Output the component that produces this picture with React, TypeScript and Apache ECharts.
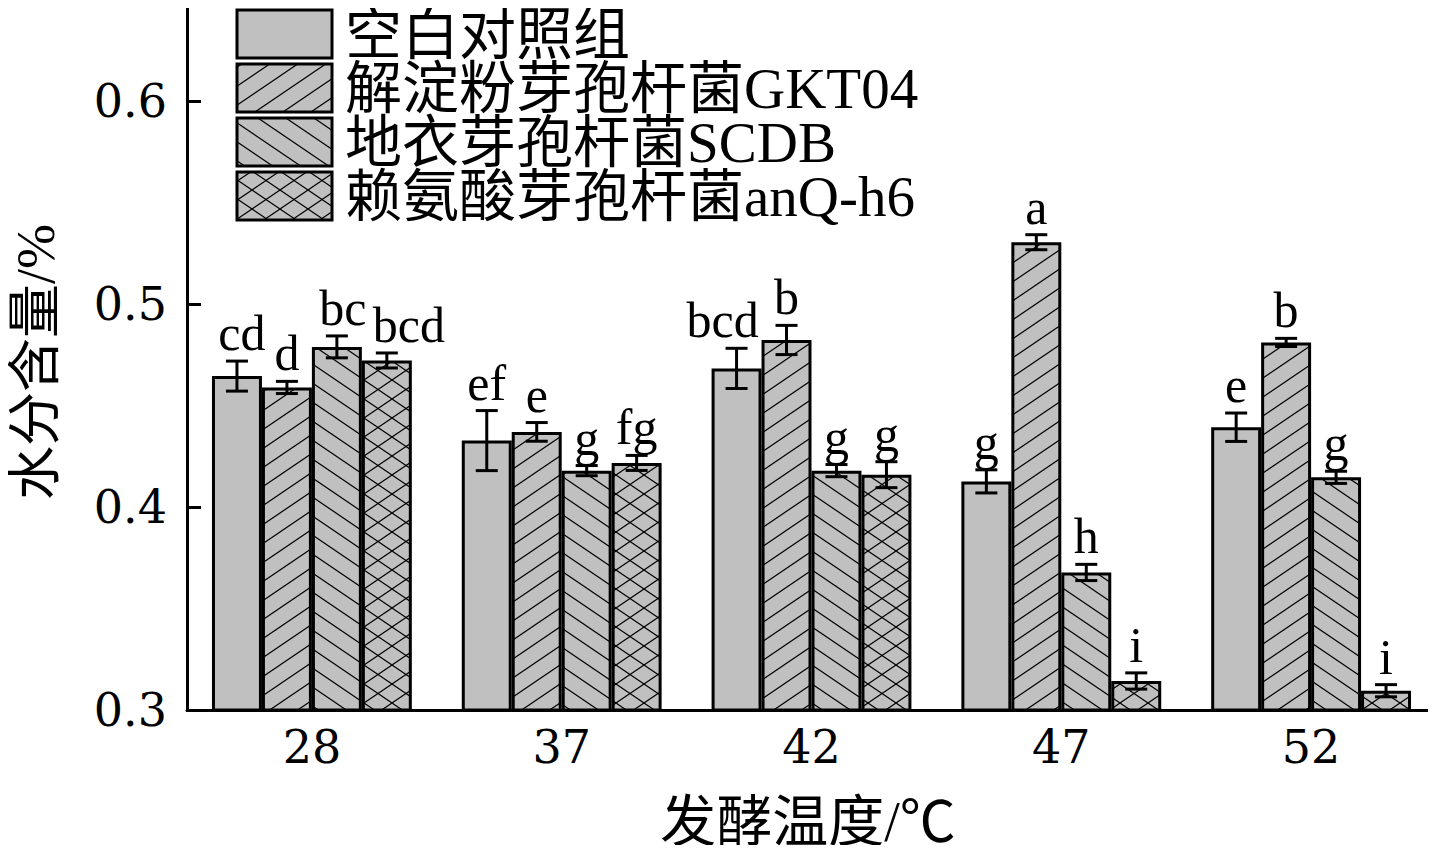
import React, { useEffect, useRef } from "react";
import * as echarts from "echarts";

const categories = ["28", "37", "42", "47", "52"];
const seriesNames = ["空白对照组", "解淀粉芽孢杆菌GKT04", "地衣芽孢杆菌SCDB", "赖氨酸芽孢杆菌anQ-h6"];

const controlValues = [0.4646, 0.4328, 0.4684, 0.4127, 0.4394];
const gktValues = [0.459, 0.4371, 0.4824, 0.5306, 0.4812];
const scdbValues = [0.479, 0.418, 0.418, 0.3678, 0.4147];
const anqValues = [0.4723, 0.4218, 0.416, 0.3143, 0.3095];

const controlErr = [0.0074, 0.0148, 0.0099, 0.0057, 0.007];
const gktErr = [0.003, 0.0046, 0.0072, 0.0037, 0.002];
const scdbErr = [0.0054, 0.0025, 0.003, 0.004, 0.003];
const anqErr = [0.0037, 0.0037, 0.0064, 0.004, 0.003];

const controlSig = ["cd", "ef", "bcd", "g", "e"];
const gktSig = ["d", "e", "b", "a", "b"];
const scdbSig = ["bc", "g", "g", "h", "g"];
const anqSig = ["bcd", "fg", "g", "i", "i"];

const yTicks = [0.3, 0.4, 0.5, 0.6];

const allValues = [controlValues, gktValues, scdbValues, anqValues];
const allErr = [controlErr, gktErr, scdbErr, anqErr];
const allSig = [controlSig, gktSig, scdbSig, anqSig];
const patternKinds = ["solid", "fwd", "back", "cross"];
// horizontal nudges (px) of a few letter labels, as in the reference, to keep them apart
const sigNudge: Record<string, number> = { "0-0": 5, "2-0": 6, "3-0": 22, "0-2": -14 };

const GRAY = "#c0c0c0";
const SERIF = '"Liberation Serif", "Times New Roman", serif';
const NUMFONT = '"DejaVu Serif", serif';
const CJK = '"Liberation Serif", "Noto Sans CJK SC", serif';

function makePattern(kind: string): any {
  const W = 28;
  const H = 19;
  if (kind === "solid") return GRAY;
  const c = document.createElement("canvas");
  c.width = W;
  c.height = H;
  const ctx = c.getContext("2d")!;
  ctx.fillStyle = GRAY;
  ctx.fillRect(0, 0, W, H);
  ctx.strokeStyle = "#000";
  ctx.lineWidth = 1.2;
  const drawFwd = () => {
    for (let k = -1; k <= 1; k++) {
      ctx.beginPath();
      ctx.moveTo(-W, 2 * H + k * H);
      ctx.lineTo(2 * W, -H + k * H);
      ctx.stroke();
    }
  };
  const drawBack = () => {
    for (let k = -1; k <= 1; k++) {
      ctx.beginPath();
      ctx.moveTo(-W, -H + k * H);
      ctx.lineTo(2 * W, 2 * H + k * H);
      ctx.stroke();
    }
  };
  if (kind === "fwd") drawFwd();
  if (kind === "back") drawBack();
  if (kind === "cross") {
    drawFwd();
    drawBack();
  }
  return {
    image: c.toDataURL(),
    repeat: "repeat",
    imageWidth: W,
    imageHeight: H,
  };
}

export default function App() {
  const ref = useRef<HTMLDivElement>(null);
  useEffect(() => {
    if (!ref.current) return;
    const chart = echarts.init(ref.current, null, { renderer: "svg" });
    const fills = patternKinds.map((k) => makePattern(k));
    const nSeries = seriesNames.length;

    const barSeries = seriesNames.map((name, i) => ({
      name,
      type: "bar",
      data: allValues[i],
      barGap: "0%",
      barCategoryGap: "20%",
      itemStyle: { color: fills[i], borderColor: "#000", borderWidth: 3 },
      z: 2,
    }));

    const errData: any[] = [];
    allValues.forEach((vals, si) => {
      vals.forEach((v, ci) => {
        errData.push([ci, v, allErr[si][ci], si, allSig[si][ci]]);
      });
    });

    const errSeries = {
      type: "custom",
      name: "err",
      data: errData,
      z: 5,
      renderItem: (params: any, api: any) => {
        const ci = api.value(0);
        const v = api.value(1);
        const e = api.value(2);
        const si = api.value(3);
        const sig = errData[params.dataIndex][4];
        const center = api.coord([ci, v]);
        const band = api.size([1, 0])[0];
        const barW = (band * 0.8) / nSeries;
        const x = center[0] + (si - (nSeries - 1) / 2) * barW;
        const yTop = api.coord([ci, v + e])[1];
        const yBot = api.coord([ci, v - e])[1];
        const cap = 11;
        const ls = { stroke: "#000", lineWidth: 3 };
        const nudge = sigNudge[`${si}-${ci}`] || 0;
        return {
          type: "group",
          children: [
            { type: "line", shape: { x1: x, y1: yTop, x2: x, y2: yBot }, style: ls },
            { type: "line", shape: { x1: x - cap, y1: yTop, x2: x + cap, y2: yTop }, style: ls },
            { type: "line", shape: { x1: x - cap, y1: yBot, x2: x + cap, y2: yBot }, style: ls },
            {
              type: "text",
              x: x + nudge,
              y: yTop - 3,
              style: {
                text: sig,
                fill: "#000",
                font: `50px ${SERIF}`,
                align: "center",
                verticalAlign: "bottom",
              },
            },
          ],
        };
      },
    };

    const legendGraphics: any[] = [];
    seriesNames.forEach((name, i) => {
      const top = 10 + i * 54;
      legendGraphics.push({
        type: "rect",
        shape: { x: 237, y: top, width: 95, height: 48 },
        style: { fill: fills[i], stroke: "#000", lineWidth: 3 },
        z: 10,
      });
      legendGraphics.push({
        type: "text",
        x: 345,
        y: top + 24,
        style: {
          text: name,
          fill: "#000",
          font: `57px ${CJK}`,
          lineHeight: 50,
          verticalAlign: "middle",
          align: "left",
        },
        z: 10,
      });
    });

    chart.setOption({
      animation: false,
      backgroundColor: "#fff",
      grid: { left: 187, right: 0, top: 0, bottom: 143, containLabel: false },
      xAxis: {
        type: "category",
        data: categories,
        axisLine: { lineStyle: { color: "#000", width: 3 } },
        axisTick: { show: false },
        axisLabel: { color: "#000", fontFamily: NUMFONT, fontSize: 46, margin: 14 },
      },
      yAxis: {
        type: "value",
        min: 0.3,
        max: 0.65,
        interval: 0.1,
        splitLine: { show: false },
        axisLine: { show: true, lineStyle: { color: "#000", width: 3 } },
        axisTick: {
          show: true,
          inside: true,
          length: 14,
          lineStyle: { color: "#000", width: 3 },
          customValues: yTicks,
        },
        axisLabel: {
          color: "#000",
          fontFamily: NUMFONT,
          fontSize: 46,
          margin: 20,
          customValues: yTicks,
          formatter: (v: number) => v.toFixed(1),
        },
      },
      series: [...barSeries, errSeries],
      graphic: [
        ...legendGraphics,
        {
          type: "text",
          x: 808,
          y: 822,
          style: {
            text: "发酵温度/℃",
            fill: "#000",
            font: `56px ${CJK}`,
            lineHeight: 54,
            align: "center",
            verticalAlign: "middle",
          },
        },
        {
          type: "text",
          x: 36,
          y: 362,
          rotation: Math.PI / 2,
          style: {
            text: "水分含量/%",
            fill: "#000",
            font: `54px ${CJK}`,
            align: "center",
            verticalAlign: "middle",
          },
        },
      ],
    });
    return () => chart.dispose();
  }, []);
  return <div ref={ref} style={{ width: 1436, height: 853, margin: -8 }} />;
}
